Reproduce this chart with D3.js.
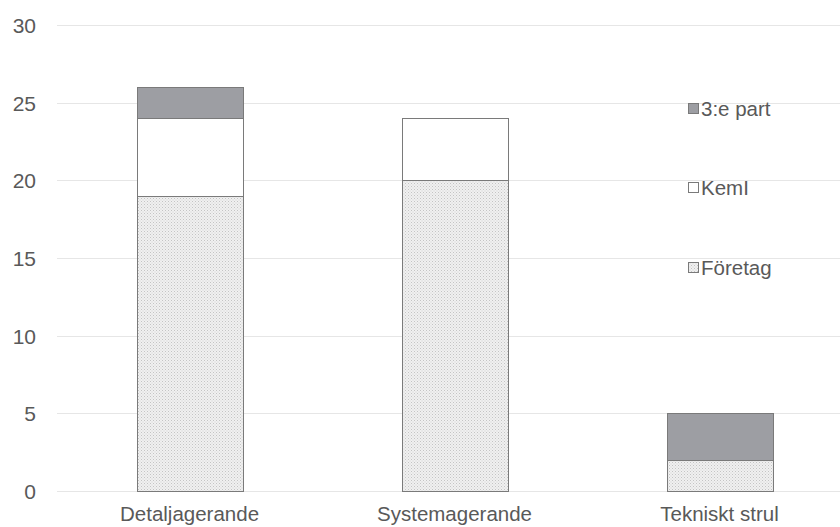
<!DOCTYPE html>
<html><head><meta charset="utf-8">
<script src="https://cdn.jsdelivr.net/npm/d3@7"></script>
<style>body{margin:0;background:#fff}svg{display:block}</style>
</head><body>
<svg id="c" width="840" height="527"></svg>
<script>
const categories = ["Detaljagerande", "Systemagerande", "Tekniskt strul"];
const foretag = [19, 20, 2];
const keml = [5, 4, 0];
const tredjePart = [2, 0, 3];
const seriesNames = ["Företag", "KemI", "3:e part"];
const yTicks = [0, 5, 10, 15, 20, 25, 30];

const svg = d3.select("#c");
const defs = svg.append("defs");
const pat = defs.append("pattern").attr("id","dots").attr("patternUnits","userSpaceOnUse")
  .attr("width",3).attr("height",3);
pat.append("rect").attr("width",3).attr("height",3).attr("fill","#f0f0f0");
pat.append("rect").attr("width",1).attr("height",1).attr("fill","#c4c4c4");
pat.append("rect").attr("x",1.5).attr("y",1.5).attr("width",1).attr("height",1).attr("fill","#d2d2d2");

const fills = ["url(#dots)", "#ffffff", "#9d9ea3"];
const font = "Liberation Sans, Arial, sans-serif";

const x = d3.scaleBand().domain(categories).range([57, 852]).paddingInner(0.6).paddingOuter(0.3);
const y = d3.scaleLinear().domain([0, 30]).range([491, 25]);

// gridlines
svg.append("g").selectAll("line").data(yTicks).join("line")
  .attr("x1", 57).attr("x2", 840)
  .attr("y1", d => Math.round(y(d)) + 0.5).attr("y2", d => Math.round(y(d)) + 0.5)
  .attr("stroke", "#e6e6e6").attr("stroke-width", 1);

// y axis labels
const yAxis = d3.axisLeft(y).tickValues(yTicks).tickSize(0).tickPadding(0);
const ga = svg.append("g").attr("transform", "translate(36,0)").call(yAxis);
ga.select(".domain").remove();
ga.selectAll("text").attr("font-family",font).attr("font-size",21)
  .attr("fill","#595959").attr("dy","0.35em");

// x axis labels
const xAxis = d3.axisBottom(x).tickSize(0).tickPadding(0);
const gx = svg.append("g").attr("transform","translate(0,506)").call(xAxis);
gx.select(".domain").remove();
gx.selectAll("text").attr("font-family",font).attr("font-size",20.5)
  .attr("fill","#595959").attr("dy","0.72em");

// stacked bars
const table = categories.map((c,i) => ({cat:c, a:foretag[i], b:keml[i], c3:tredjePart[i]}));
const stack = d3.stack().keys(["a","b","c3"])(table);
stack.forEach((layer, li) => {
  svg.append("g").selectAll("rect").data(layer.filter(d => d[1] - d[0] > 0)).join("rect")
    .attr("x", d => Math.round(x(d.data.cat)) + 0.5)
    .attr("width", Math.round(x.bandwidth()))
    .attr("y", d => Math.round(y(d[1])) + 0.5)
    .attr("height", d => Math.round(y(d[0])) - Math.round(y(d[1])))
    .attr("fill", fills[li])
    .attr("stroke", "#7a7a7a").attr("stroke-width", 1);
});

// legend
const legendY = [268, 188, 109];
seriesNames.forEach((n, i) => {
  const g = svg.append("g").attr("transform", `translate(688,${legendY[i]})`);
  g.append("rect").attr("x",0.5).attr("y",-5.5).attr("width",10).attr("height",10)
    .attr("fill", fills[i]).attr("stroke","#7a7a7a").attr("stroke-width",1);
  g.append("text").attr("x",13).attr("y",0).attr("dy","0.35em")
    .attr("font-family",font).attr("font-size",20.5)
    .attr("fill","#595959").text(n);
});
</script>
</body></html>
